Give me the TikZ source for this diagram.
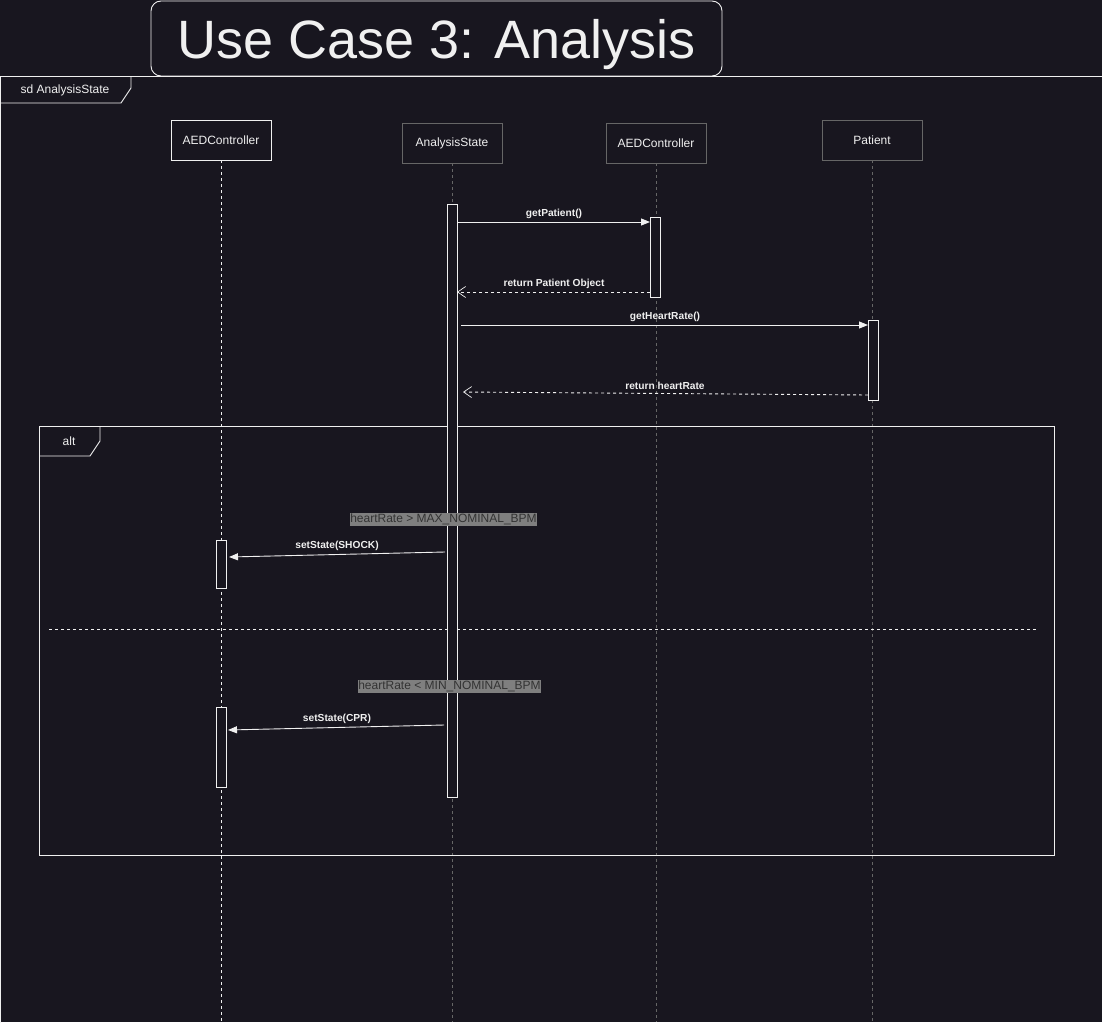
\documentclass[tikz,border=0pt]{standalone}
\usepackage{fontspec}
\setmainfont{Liberation Sans}
\usetikzlibrary{arrows.meta}
\definecolor{bgc}{HTML}{18161F}
\definecolor{fg}{HTML}{F0F0F0}
\definecolor{gline}{HTML}{666666}
\definecolor{guardbg}{HTML}{7F7F7F}
\definecolor{guardfg}{HTML}{333333}
\tikzset{
  head/.style={draw=#1, fill=bgc, text=fg, minimum width=100pt, minimum height=40pt, inner sep=0pt, font=\fontsize{12}{14}\selectfont, line width=0.8pt},
  life/.style={draw=#1, line width=0.8pt, dash pattern=on 3pt off 3pt},
  actbar/.style={draw=fg, fill=bgc, minimum width=10pt, inner sep=0pt, line width=0.9pt, anchor=north},
  msg/.style={draw=fg, line width=0.9pt, -{Triangle[length=9pt,width=7pt]}},
  ret/.style={draw=fg, line width=0.9pt, dash pattern=on 3pt off 3pt, -{Straight Barb[length=8pt,width=11pt,line width=0.7pt]}},
  mlabel/.style={text=fg, font=\fontsize{10.2}{12}\selectfont\bfseries, inner sep=0pt},
  guard/.style={fill=guardbg, text=guardfg, font=\fontsize{12}{13}\selectfont, inner sep=0.5pt, minimum height=13pt},
  frameline/.style={draw=fg, line width=0.9pt},
}
\begin{document}
\begin{tikzpicture}[x=1pt,y=-1pt]
\fill[bgc] (0,0) rectangle (1102,1022);
\useasboundingbox (0,0) rectangle (1102,1022);

% title
\node[draw=fg, line width=0.9pt, rounded corners=10pt, minimum width=571pt, minimum height=75pt, inner sep=0pt] (title) at (436.5,38.5) {};
\node[text=fg, font=\fontsize{54}{60}\selectfont, inner sep=0pt, anchor=base] (titletext) at (436.5,59) {Use Case 3: Analysis};

% sd frame
\draw[frameline] (0.5,1100) -- (0.5,76.5) -- (1110,76.5);
\draw[frameline] (0.5,103) -- (121,103) -- (131,88) -- (131,76.5);
\node[text=fg, font=\fontsize{12}{14}\selectfont, inner sep=0pt] (sdlabel) at (65,90.5) {sd AnalysisState};

% lifelines
\node[head=fg] (aedL) at (221,140) {AEDController};
\node[head=gline] (ana) at (452,143) {AnalysisState};
\node[head=gline] (aedR) at (656,143) {AEDController};
\node[head=gline] (pat) at (872,140) {Patient};

\coordinate (aedLend) at (221,1022);
\coordinate (anaend) at (452,1022);
\coordinate (aedRend) at (656,1022);
\coordinate (patend) at (872,1022);
\draw[life=fg] (aedL.south) -- (aedLend);
\draw[life=gline] (ana.south) -- (anaend);
\draw[life=gline] (aedR.south) -- (aedRend);
\draw[life=gline] (pat.south) -- (patend);

% alt frame
\draw[frameline] (39,426) rectangle (1054,855);
\draw[frameline] (39,456) -- (90,456) -- (100,441) -- (100,426);
\node[text=fg, font=\fontsize{12}{14}\selectfont, inner sep=0pt] (altlabel) at (69,441) {alt};
\coordinate (sepL) at (49,629);
\coordinate (sepR) at (1036,629);
\draw[draw=fg, line width=0.8pt, dash pattern=on 3pt off 3pt] (sepL) -- (sepR);

% activation bars
\node[actbar, minimum height=593pt] (actA) at (452,204) {};
\node[actbar, minimum height=80pt] (actR) at (655,217) {};
\node[actbar, minimum height=80pt] (actP) at (873,320) {};
\node[actbar, minimum height=48pt] (actL1) at (221,540) {};
\node[actbar, minimum height=80pt] (actL2) at (221,707) {};

% guards
\node[guard] (g1) at (443.5,519) {heartRate > MAX\_NOMINAL\_BPM};
\node[guard] (g2) at (449.5,686) {heartRate < MIN\_NOMINAL\_BPM};

% messages
\coordinate (m1a) at (457,222);
\coordinate (m1b) at (650,222);
\draw[msg] (m1a) -- (m1b);
\node[mlabel] (l1) at (554,214) {getPatient()};

\coordinate (m2a) at (650,292);
\coordinate (m2b) at (457,292);
\draw[ret] (m2a) -- (m2b);
\node[mlabel] (l2) at (554,284) {return Patient Object};

\coordinate (m3a) at (461,325);
\coordinate (m3b) at (868,325);
\draw[msg] (m3a) -- (m3b);
\node[mlabel] (l3) at (665,317) {getHeartRate()};

\coordinate (m4a) at (868,395);
\coordinate (m4b) at (463,392);
\draw[ret] (m4a) -- (m4b);
\node[mlabel] (l4) at (665,386) {return heartRate};

\coordinate (m5a) at (445,552);
\coordinate (m5b) at (229,557);
\draw[msg] (m5a) -- (m5b);
\node[mlabel] (l5) at (337,546) {setState(SHOCK)};

\coordinate (m6a) at (444,725);
\coordinate (m6b) at (228,730);
\draw[msg] (m6a) -- (m6b);
\node[mlabel] (l6) at (337,719) {setState(CPR)};
\end{tikzpicture}
\end{document}
